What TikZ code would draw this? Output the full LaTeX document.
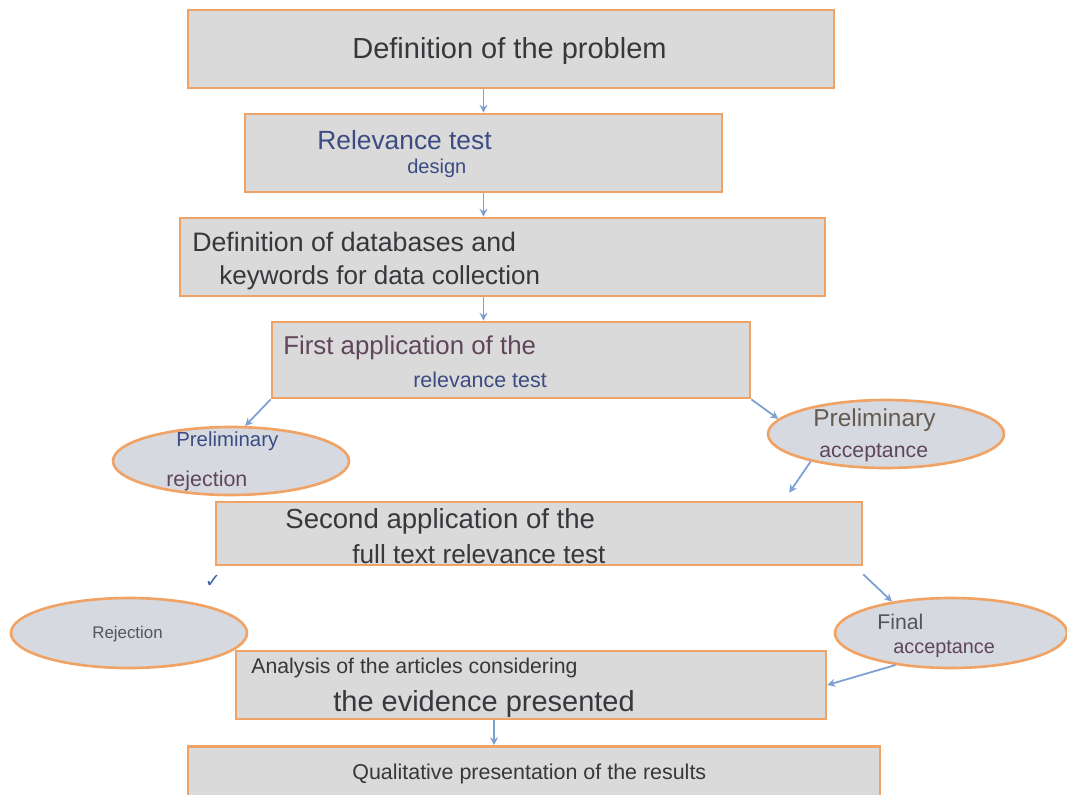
\documentclass[tikz,border=0pt]{standalone}
\usepackage{fontspec}
\setmainfont{Liberation Sans}
\newfontfamily\symfont{DejaVu Sans}
\usetikzlibrary{shapes.geometric}
\usetikzlibrary{arrows.meta}
\definecolor{boxline}{RGB}{240,163,100}
\definecolor{boxfill}{RGB}{218,218,218}
\definecolor{ovalfill}{RGB}{214,218,224}
\definecolor{arrowblue}{RGB}{125,160,210}
\definecolor{darktext}{RGB}{55,55,60}
\definecolor{bluetext}{RGB}{60,75,130}
\definecolor{purpletext}{RGB}{95,70,90}
\definecolor{browntext}{RGB}{100,90,80}
\definecolor{graytext}{RGB}{85,85,90}
\definecolor{tickblue}{RGB}{60,100,170}
\newcommand{\fsz}[1]{\fontsize{#1}{#1}\selectfont}

\begin{document}
\begin{tikzpicture}[x=0.02cm, y=-0.02cm,
    box/.style={draw=boxline, fill=boxfill, line width=1.5pt, inner sep=0pt},
    oval/.style={ellipse, draw=boxline, fill=ovalfill, line width=1.5pt, inner sep=0pt},
    lbl/.style={anchor=west, inner sep=0pt, yshift=-0.05cm},
    arr/.style={-{Stealth[length=4.5pt, width=4.5pt]}, draw=arrowblue, line width=1pt}]
            \clip (0, 0) rectangle (1067, 794);
            \fill[white] (0, 0) rectangle (1067, 794);
            % boxes
            \node[box, minimum width=12.92cm, minimum height=1.56cm] (problem) at (511, 49) {};
            \node[box, minimum width=9.54cm, minimum height=1.56cm] (design) at (483.5, 153) {};
            \node[box, minimum width=12.9cm, minimum height=1.56cm] (databases) at (502.5, 257) {};
            \node[box, minimum width=9.56cm, minimum height=1.52cm] (first) at (511, 360) {};
            \node[box, minimum width=12.92cm, minimum height=1.26cm] (second) at (539, 533.5) {};
            \node[box, minimum width=11.8cm, minimum height=1.36cm] (analysis) at (531, 685) {};
            \node[box, minimum width=13.84cm, minimum height=1.66cm] (results) at (534, 788) {};
            % ovals
            \node[oval, minimum width=4.72cm, minimum height=1.36cm] (prelrej) at (231, 461) {};
            \node[oval, minimum width=4.72cm, minimum height=1.36cm] (prelacc) at (886, 434) {};
            \node[oval, minimum width=4.72cm, minimum height=1.40cm] (rejection) at (129, 633) {};
            \node[oval, minimum width=4.64cm, minimum height=1.40cm] (finalacc) at (951, 633) {};
            % texts
            \node[lbl, text=darktext] (problemtxt) at (352, 49) {\fsz{16.5}Definition of the problem};
            \node[lbl, text=bluetext] (designtxta) at (317, 138) {\fsz{15}Relevance test};
            \node[lbl, text=bluetext] (designtxtb) at (407, 166) {\fsz{11.4}design};
            \node[lbl, text=darktext] (databasestxta) at (192, 239) {\fsz{15.2}Definition of databases and};
            \node[lbl, text=darktext] (databasestxtb) at (219, 275) {\fsz{14.8}keywords for data collection};
            \node[lbl, text=purpletext] (firsttxta) at (283, 345) {\fsz{14.7}First application of the};
            \node[lbl, text=bluetext] (firsttxtb) at (413, 377) {\fsz{12.2}relevance test};
            \node[lbl, text=bluetext] (prelrejtxta) at (176, 439) {\fsz{11.6}Preliminary};
            \node[lbl, text=purpletext] (prelrejtxtb) at (166, 478) {\fsz{12.2}rejection};
            \node[lbl, text=browntext] (prelacctxta) at (813, 418) {\fsz{13.9}Preliminary};
            \node[lbl, text=purpletext] (prelacctxtb) at (819, 450) {\fsz{12.1}acceptance};
            \node[lbl, text=darktext] (secondtxta) at (285, 519) {\fsz{15.7}Second application of the};
            \node[lbl, text=darktext] (secondtxtb) at (352, 552) {\fsz{14.9}full text relevance test};
            \node[text=tickblue, inner sep=0pt] (tick) at (213, 581) {\symfont\fsz{11}✓};
            \node[lbl, text=graytext] (rejectiontxt) at (92, 632) {\fsz{9.6}Rejection};
            \node[lbl, text=graytext] (finalacctxta) at (877, 619) {\fsz{12.1}Final};
            \node[lbl, text=purpletext] (finalacctxtb) at (893, 647) {\fsz{11.3}acceptance};
            \node[lbl, text=darktext] (analysistxta) at (251, 665) {\fsz{12.1}Analysis of the articles considering};
            \node[lbl, text=darktext] (analysistxtb) at (333, 701) {\fsz{16.5}the evidence presented};
            \node[lbl, text=darktext] (resultstxt) at (352, 771) {\fsz{12.2}Qualitative presentation of the results};
            % arrows
            \draw[arr] (problem.south -| design.north) -- (design.north);
            \draw[arr] (design.south) -- (design.south |- databases.north);
            \draw[arr] (databases.south -| design.south) -- (first.north -| design.south);
            \draw[arr] (first.south west) -- (prelrej.68);
            \draw[arr] (first.south east) -- (prelacc.172);
            \draw[arr] (prelacc.200) -- ([shift={(-74, -8)}]second.north east);
            \draw[arr] ([shift={(0, 8)}]second.south east) -- (finalacc.152);
            \draw[arr] (finalacc.210) -- (analysis.east);
            \draw[arr] ([xshift=-0.74cm]analysis.south) -- ([xshift=-0.74cm]analysis.south |- results.north);
        \end{tikzpicture}
\end{document}
